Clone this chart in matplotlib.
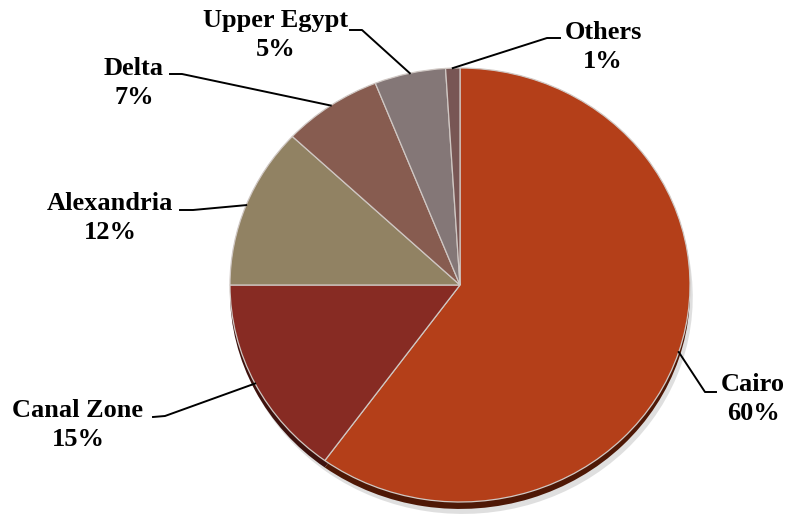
import numpy as np
import matplotlib
matplotlib.use("Agg")
import matplotlib.pyplot as plt
from matplotlib.lines import Line2D

# Share of establishments by region
regions = ["Cairo", "Canal Zone", "Alexandria", "Delta", "Upper Egypt", "Others"]
shares = [60, 15, 12, 7, 5, 1]
colors = ["#B43F19", "#872B23", "#918263", "#875C50", "#847777", "#785654"]
depth_colors = ["#4E1806", "#3E120E", "#4A4030", "#432C26", "#403838", "#3A2826"]

# label centre (px), elbow point (px), end of horizontal stub (px)
label_pos = [(753, 399), (78, 425), (110, 218), (134, 83), (276, 35), (603, 47)]
elbows = [(705, 392), (165, 416), (193, 210), (182, 74), (362, 30), (547, 38)]
stubs = [(716, 392), (153, 417), (180, 210), (170, 74), (350, 30), (560, 38)]

W, H = 788, 525
fig = plt.figure(figsize=(W / 100, H / 100), dpi=100)

# pie box: x 230..690, y 68..502 (slightly squashed, like a tilted 3-D pie)
ax = fig.add_axes([230 / W, 1 - 502 / H, 460 / W, 434 / H])
ax.axis("off")

# soft drop shadow + rim to give the disc some thickness
shadow, _ = ax.pie(shares, colors=["#b9b9b9"] * len(shares), startangle=90,
                   counterclock=False, center=(0.012, -0.055),
                   wedgeprops=dict(linewidth=0, alpha=0.45))
rim, _ = ax.pie(shares, colors=depth_colors, startangle=90, counterclock=False,
                center=(0, -0.032), wedgeprops=dict(linewidth=0))
wedges, _ = ax.pie(shares, colors=colors, startangle=90, counterclock=False,
                   wedgeprops=dict(edgecolor="#d0c8c4", linewidth=0.9))
for w in shadow + rim + wedges:
    w.set_clip_on(False)
ax.set_aspect("auto")
ax.set_xlim(-1, 1)
ax.set_ylim(-1, 1)

fig.canvas.draw()
to_px = ax.transData
for w, name, val, (tx, ty), (ex, ey), (sx, sy) in zip(
        wedges, regions, shares, label_pos, elbows, stubs):
    mid = np.deg2rad((w.theta1 + w.theta2) / 2)
    px, py = to_px.transform((np.cos(mid), np.sin(mid)))
    fig.add_artist(Line2D([px / W, ex / W, sx / W],
                          [py / H, 1 - ey / H, 1 - sy / H],
                          color="black", linewidth=1.4))
    fig.text(tx / W, 1 - ty / H, f"{name}\n{val}%", ha="center", va="center",
             family="Liberation Serif", fontweight="bold", fontsize=19,
             linespacing=1.3)

fig.savefig("out.png", dpi=100)
